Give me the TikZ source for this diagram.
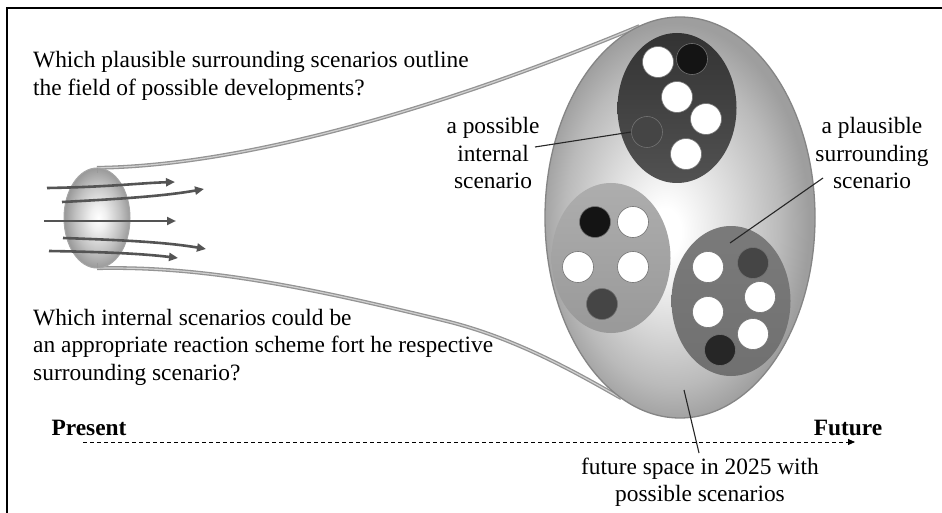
\documentclass[tikz,border=0pt]{standalone}
\usepackage{fontspec}
\setmainfont{Liberation Serif}
\usetikzlibrary{shapes.geometric,arrows.meta}

\definecolor{flowgray}{gray}{0.33}
\definecolor{leadgray}{gray}{0.15}

% soft radial fill of the future space, lightest a little below the middle
% (the path's bounding box spans radius 25bp of the shading)
\pgfdeclareradialshading{spaceshade}{\pgfpoint{-3bp}{-2bp}}{%
  color(0bp)=(white); color(3bp)=(white); color(12bp)=(black!14);
  color(20bp)=(black!27); color(25bp)=(black!38); color(40bp)=(black!38)}
% the small lens on the left
\pgfdeclareradialshading{lensshade}{\pgfpoint{1bp}{0bp}}{%
  color(0bp)=(white); color(6bp)=(black!6); color(17bp)=(black!24);
  color(25bp)=(black!40); color(40bp)=(black!40)}

\begin{document}
\begin{tikzpicture}[x=1pt,y=-1pt,
  txt/.style={font=\fontsize{23.4}{27.5}\selectfont, inner sep=0pt},
  bold/.style={font=\fontsize{23.4}{27.5}\selectfont\bfseries, inner sep=0pt},
  funnel/.style={draw=black!42, double=black!18, double distance=1.2pt, line width=1.3pt},
  flow/.style={draw=flowgray, line width=2.6pt,
    -{Triangle[length=9pt,width=8pt]}},
  lead/.style={draw=leadgray, line width=1.1pt},
  scen/.style={ellipse, inner sep=0pt, minimum width=119pt, minimum height=150pt},
  dot/.style={circle, inner sep=0pt, minimum size=31pt, draw=black!55, line width=0.6pt},
  wdot/.style={dot, fill=white},
  ddot/.style={dot, fill=black!73},
  bdot/.style={dot, fill=black!92},
]
\useasboundingbox (0,0) rectangle (942,513);
\fill[white] (0,0) rectangle (942,513);

% frame on the left and top
\draw[line width=2.5pt] (7,513) -- (7,8) -- (942,8);

% the future space and the lens (placed first so the funnel can attach)
\path (680,217.5) node[ellipse, inner sep=0pt, minimum width=270pt, minimum height=401pt] (space) {};
\path (97,218) node[ellipse, inner sep=0pt, minimum width=66pt, minimum height=100pt] (lens) {};

% funnel widening from the lens to the future space
\draw[funnel] (lens.north) .. controls +(152,-2) and +(-187,78) .. (space.102.7);
\draw[funnel] (lens.south) .. controls (200,266) and (300,285) .. (450,322)
  .. controls (520,340) and (580,375) .. (space.252);

% future space
\path[shading=spaceshade, draw=black!48, line width=1.3pt]
  (space.center) ellipse [x radius=135, y radius=200.5];

% three surrounding scenarios
\node[scen, top color=black!80, bottom color=black!68] (s1) at (677,108) {};
\node[scen, top color=black!32, bottom color=black!40] (s2) at (611,258) {};
\node[scen, top color=black!52, bottom color=black!56] (s3) at (731,301) {};

% internal scenarios of the upper one
\node[wdot] (s1a) at (658,62) {};
\node[bdot] (s1b) at (692,59) {};
\node[wdot] (s1c) at (677,97) {};
\node[wdot] (s1d) at (706,119) {};
\node[ddot] (s1e) at (647,132) {};
\node[wdot] (s1f) at (686,154) {};

% internal scenarios of the left one
\node[bdot] (s2a) at (595,222) {};
\node[wdot] (s2b) at (633,222) {};
\node[wdot] (s2c) at (578,267) {};
\node[wdot] (s2d) at (633,267) {};
\node[ddot] (s2e) at (602,304) {};

% internal scenarios of the right one
\node[wdot] (s3a) at (708,267) {};
\node[ddot] (s3b) at (753,263) {};
\node[wdot] (s3c) at (760,297) {};
\node[wdot] (s3d) at (708,312) {};
\node[wdot] (s3e) at (753,334) {};
\node[dot, fill=black!85] (s3f) at (720,350) {};

% the lens
\path[shading=lensshade, draw=black!35, line width=1pt]
  (lens.center) ellipse [x radius=33, y radius=50];
\draw[black!40, line width=0.8pt] (lens.north) -- ++(0,5);
\draw[black!40, line width=0.8pt] (lens.south) -- ++(0,-5);

% developments passing through the lens
\coordinate (f1s) at (47,188);  \coordinate (f1e) at (175,182);
\coordinate (f2s) at (62,202);  \coordinate (f2e) at (204,189);
\coordinate (f3s) at (44,221);  \coordinate (f3e) at (176,221);
\coordinate (f4s) at (63,238);  \coordinate (f4e) at (206,249);
\coordinate (f5s) at (49,251);  \coordinate (f5e) at (178,258);
\draw[flow] (f1s) .. controls (110,187) and (140,183) .. (f1e);
\draw[flow] (f2s) .. controls (120,199) and (165,196) .. (f2e);
\draw[flow] (f3s) -- (f3e);
\draw[flow] (f4s) .. controls (120,240) and (165,242) .. (f4e);
\draw[flow] (f5s) .. controls (110,252) and (145,254) .. (f5e);

% questions
\node[txt, anchor=west, align=left] (q1) at (33,76)
  {Which plausible surrounding scenarios outline\\the field of possible developments?};
\node[txt, anchor=west, align=left] (q2) at (33,347)
  {Which internal scenarios could be\\an appropriate reaction scheme fort he respective\\surrounding scenario?};

% labels
\node[txt, align=center] (lint) at (493,153) {a possible\\internal\\scenario};
\node[txt, align=center] (lsur) at (872,153) {a plausible\\surrounding\\scenario};
\node[txt, align=center] (lfut) at (700,482) {future space in 2025 with\\possible scenarios};

\coordinate (lintp) at (535,147);
\coordinate (lsurp) at (823,178);
\coordinate (s3p) at (730,243);
\coordinate (lfutp) at (699,453);
\coordinate (spacep) at (684,390);
\draw[lead] (lintp) -- (s1e.west);
\draw[lead] (lsurp) -- (s3p);
\draw[lead] (lfutp) -- (spacep);

% time axis
\node[bold] (pres) at (89,428) {Present};
\node[bold] (fut) at (848,428) {Future};
\coordinate (axs) at (83,442);
\coordinate (axe) at (855,442);
\draw[dashed, line width=0.8pt, dash pattern=on 4pt off 3pt,
  -{Triangle[length=7pt,width=6pt]}] (axs) -- (axe);
\end{tikzpicture}
\end{document}
